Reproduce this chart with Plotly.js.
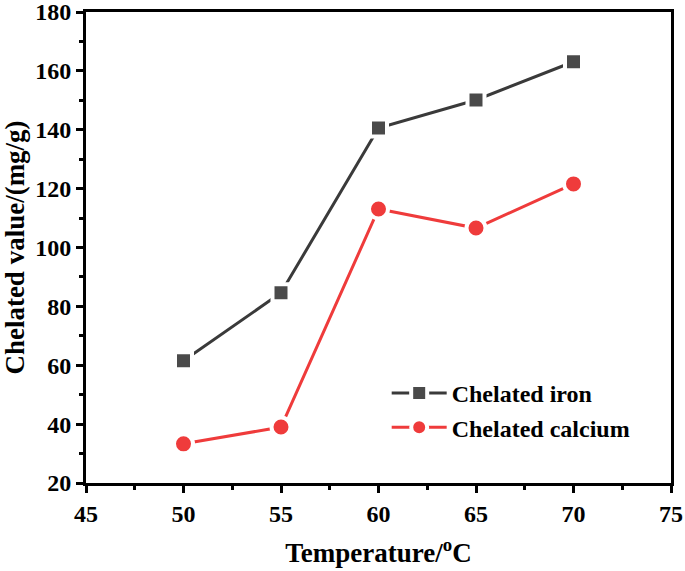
<!DOCTYPE html>
<html><head><meta charset="utf-8">
<script src="https://cdn.plot.ly/plotly-3.0.1.min.js"></script>
<style>body{margin:0;background:#fff}#c{width:685px;height:571px}</style>
</head><body><div id="c"></div>
<script>
const temperature = [50, 55, 60, 65, 70];
const chelatedIron = [61.5, 84.6, 140.6, 150.1, 163.1];
const chelatedCalcium = [33.3, 39.0, 113.1, 106.6, 121.6];
const seriesNames = ["Chelated iron", "Chelated calcium"];

const font = {family: "Liberation Serif, Times New Roman, serif", color: "#000", weight: 700};
const traces = [
  {x: temperature, y: chelatedIron, name: seriesNames[0], type: "scatter", mode: "lines+markers",
   line: {color: "#3a3a3a", width: 3},
   marker: {symbol: "square", size: 17, color: "#4a4a4a", line: {color: "#fff", width: 4}}},
  {x: temperature, y: chelatedCalcium, name: seriesNames[1], type: "scatter", mode: "lines+markers",
   line: {color: "#ef3b3b", width: 3},
   marker: {symbol: "circle", size: 19, color: "#ef3b3b", line: {color: "#fff", width: 4}}}
];
const axisCommon = {
  showline: true, linecolor: "#000", linewidth: 3, mirror: true,
  ticks: "outside", ticklen: 7, tickwidth: 2.5, tickcolor: "#000",
  showgrid: false, zeroline: false, ticklabeloverflow: "allow",
  tickprefix: "<b>", ticksuffix: "</b>",
  tickfont: Object.assign({}, font, {size: 24})
};
const layout = {
  width: 685, height: 571,
  margin: {l: 86, r: 14, t: 12, b: 88},
  paper_bgcolor: "#fff", plot_bgcolor: "#fff",
  showlegend: true,
  legend: {x: 0.514, y: 0.238, xanchor: "left", yanchor: "top", bgcolor: "rgba(0,0,0,0)",
           itemwidth: 55, font: Object.assign({}, font, {size: 24}), tracegroupgap: 0},
  xaxis: Object.assign({}, axisCommon, {
    range: [45, 75], dtick: 5, tick0: 45,
    minor: {ticks: "outside", ticklen: 4, tickwidth: 2.5, tickcolor: "#000", dtick: 2.5, tick0: 45},
    title: {text: "Temperature/<sup>o</sup>C", standoff: 18, font: Object.assign({}, font, {size: 27})}
  }),
  yaxis: Object.assign({}, axisCommon, {
    range: [20, 180], dtick: 20, tick0: 20,
    minor: {ticks: "outside", ticklen: 4, tickwidth: 2.5, tickcolor: "#000", dtick: 10, tick0: 20},
    title: {text: "Chelated value/(mg/g)", standoff: 6, font: Object.assign({}, font, {size: 27})}
  })
};
Plotly.newPlot("c", traces, layout, {displayModeBar: false});
</script></body></html>
